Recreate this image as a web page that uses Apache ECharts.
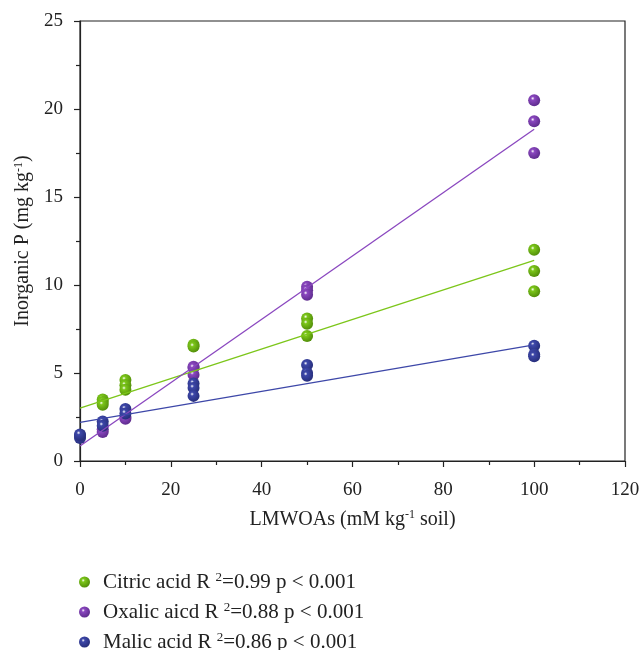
<!DOCTYPE html>
<html>
<head>
<meta charset="utf-8">
<script src="https://cdn.jsdelivr.net/npm/echarts@6/dist/echarts.min.js"></script>
<style>
  html, body { margin: 0; padding: 0; background: #fff; }
  #chart { width: 644px; height: 650px; }
</style>
</head>
<body>
<div id="chart"></div>
<script>
// LMWOA dose levels (mM kg-1 soil) and measured inorganic P (mg kg-1)
const citricDose = [5, 5, 5, 10, 10, 10, 25, 25, 50, 50, 50, 100, 100, 100];
const citricP    = [3.5, 3.35, 3.2, 4.6, 4.3, 4.05, 6.6, 6.5, 8.1, 7.8, 7.1, 12.0, 10.8, 9.65];

const oxalicDose = [5, 5, 10, 10, 25, 25, 25, 50, 50, 50, 100, 100, 100];
const oxalicP    = [1.8, 1.65, 2.5, 2.4, 5.35, 5.3, 4.9, 9.9, 9.7, 9.45, 20.5, 19.3, 17.5];

const malicDose = [0, 0, 0, 5, 5, 10, 10, 25, 25, 25, 50, 50, 50, 100, 100, 100];
const malicP    = [1.3, 1.45, 1.5, 2.25, 2.0, 2.95, 2.7, 4.4, 4.15, 3.7, 5.45, 5.0, 4.85, 6.55, 6.05, 5.95];

// Fitted regression lines, endpoints at dose 0 and 100
const fitDose   = [0, 100];
const citricFit = [3.0, 11.4];
const oxalicFit = [0.85, 18.85];
const malicFit  = [2.2, 6.6];

// Legend entries
const seriesNames = ['Citric acid', 'Oxalic aicd', 'Malic acid'];
const r2Values    = ['0.99', '0.88', '0.86'];
const pText       = 'p < 0.001';

const colors = ['#7cc61a', '#8a47bf', '#3d47a8'];
const dark   = ['#4f8a08', '#5b2a8a', '#252c78'];

function sphere(i) {
  return new echarts.graphic.RadialGradient(0.38, 0.35, 0.7, [
    { offset: 0, color: '#ffffff' },
    { offset: 0.22, color: colors[i] },
    { offset: 1, color: dark[i] }
  ]);
}

function pairs(xs, ys) { return xs.map((x, k) => [x, ys[k]]); }

const font = 'Liberation Serif';
const axisColor = '#222';
const supStyle = (size) => ({ fontFamily: font, fontSize: size, color: '#222', verticalAlign: 'top', padding: [0, 0, 9, 0] });

const chart = echarts.init(document.getElementById('chart'), null, { renderer: 'canvas' });

const scatterSets = [[citricDose, citricP], [oxalicDose, oxalicP], [malicDose, malicP]];
const fitSets = [citricFit, oxalicFit, malicFit];

const series = [];
scatterSets.forEach((s, i) => {
  series.push({
    name: seriesNames[i],
    type: 'scatter',
    data: pairs(s[0], s[1]),
    symbol: 'circle',
    symbolSize: 12,
    itemStyle: { color: sphere(i), opacity: 1 },
    z: 2
  });
});
fitSets.forEach((f, i) => {
  series.push({
    name: seriesNames[i] + ' fit',
    type: 'line',
    data: pairs(fitDose, f),
    symbol: 'none',
    lineStyle: { color: colors[i], width: 1.3 },
    silent: true,
    z: 3
  });
});

// One legend block per acid, stacked under the plot
const legendRowCenters = [580, 610, 640];
const legends = seriesNames.map((n, i) => ({
  data: [{ name: n, icon: 'circle', itemStyle: { color: sphere(i) } }],
  orient: 'horizontal',
  left: 74, top: legendRowCenters[i] - 14,
  itemWidth: 11, itemHeight: 11,
  formatter: name => name + ' R {sup|2}=' + r2Values[i] + ' ' + pText,
  textStyle: {
    fontFamily: font, fontSize: 21, color: '#222', padding: [0, 0, 0, 8], lineHeight: 22,
    rich: { sup: supStyle(13) }
  }
}));

chart.setOption({
  backgroundColor: '#fff',
  animation: false,
  color: colors,
  grid: {
    left: 80, right: 19, top: 21, bottom: 189,
    show: true, borderColor: axisColor, borderWidth: 1.2, backgroundColor: 'transparent'
  },
  xAxis: {
    type: 'value', min: 0, max: 120, interval: 20,
    name: 'LMWOAs (mM kg{sup|-1} soil)',
    nameLocation: 'middle', nameGap: 48,
    nameTextStyle: { fontFamily: font, fontSize: 20, color: '#222', rich: { sup: supStyle(12) } },
    axisLine: { show: true, lineStyle: { color: axisColor, width: 1.2 } },
    axisTick: { show: true, inside: false, length: 6, lineStyle: { color: axisColor, width: 1.2 } },
    minorTick: { show: true, splitNumber: 2, length: 4, lineStyle: { color: axisColor, width: 1.2 } },
    splitLine: { show: false },
    axisLabel: { fontFamily: font, fontSize: 19, color: '#222', margin: 20 }
  },
  yAxis: {
    type: 'value', min: 0, max: 25, interval: 5,
    name: 'Inorganic P (mg kg{sup|-1})',
    nameLocation: 'middle', nameGap: 44, nameRotate: 90,
    nameTextStyle: { fontFamily: font, fontSize: 20, color: '#222', rich: { sup: supStyle(12) } },
    axisLine: { show: true, lineStyle: { color: axisColor, width: 1.2 } },
    axisTick: { show: true, inside: false, length: 6, lineStyle: { color: axisColor, width: 1.2 } },
    minorTick: { show: true, splitNumber: 2, length: 4, lineStyle: { color: axisColor, width: 1.2 } },
    splitLine: { show: false },
    axisLabel: { fontFamily: font, fontSize: 19, color: '#222', margin: 17 }
  },
  legend: legends,
  series: series
});
</script>
</body>
</html>
